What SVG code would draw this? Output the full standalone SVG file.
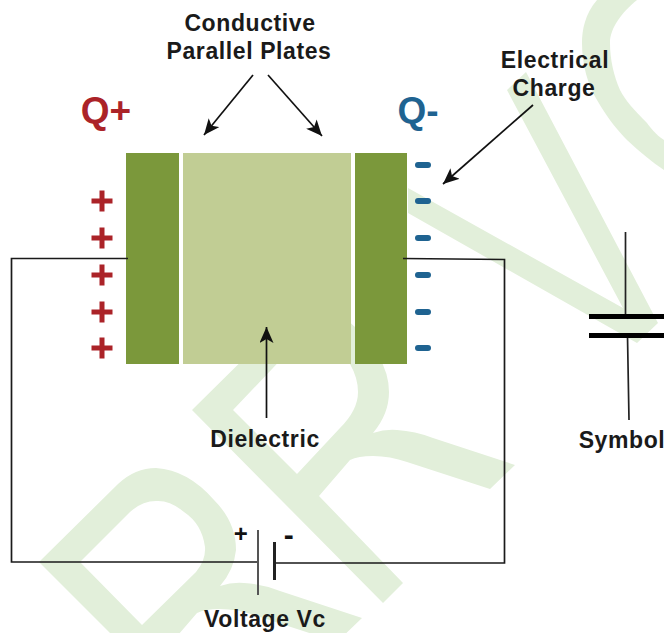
<svg xmlns="http://www.w3.org/2000/svg" width="664" height="633" viewBox="0 0 664 633">
<style>
.wm{fill:#e2efda;fill-rule:evenodd}
.w{fill:none;stroke:#1a1a1a;stroke-width:1.7}
.ar{fill:none;stroke:#111;stroke-width:1.7}
.t{font-family:"Liberation Sans",Arial,sans-serif;font-weight:700;font-size:23px;letter-spacing:.6px;fill:#1a1a1a;text-anchor:middle}
.q{font-size:37px;letter-spacing:0}
.plate{fill:#7b983b}
.neg{fill:#1f6391}
.pos{fill:#ab2328}
</style>
<defs>
<marker id="a" markerWidth="18" markerHeight="14" refX="16" refY="7" orient="auto" markerUnits="userSpaceOnUse"><path d="M0 0L16 7L0 14L4 7Z" fill="#111"/></marker>
<path id="plus" d="M-10.500-2.500H-2.500V-10.500H2.500V-2.500H10.500V2.500H2.500V10.500H-2.500V2.500H-10.500Z" class="pos"/>
<rect id="minus" x="-8" y="-3" width="16" height="6" rx="3" class="neg"/>
</defs>
<g id="watermark">
<path class="wm" d="M39 562L118 484Q135 468 156 468Q188 470 214 500Q236 522 236 550Q234 570 220 586Q232 582 244 583Q262 584 280 591L362 618L337 642L254 615Q237 609 220 609Q205 609 197 613L166 649H126ZM80 562L142 625L196 572Q206 560 205 547Q202 524 184 512Q170 500 156 501Q142 501 130 512Z"/>
<path class="wm" d="M192 410L285 318H345Q389 355 389 392Q389 414 373 433Q385 429 397 430Q415 431 433 438L515 465L490 489L407 462Q390 456 373 456Q358 456 350 460L319 496L403 583L383 603ZM233 410L297 474L340 428Q358 410 358 392Q358 378 350 364V350H290Z"/>
<path class="wm" d="M408 188L623 308L507 90L526 72L658 323L637 343L408 213Z"/>
<path class="wm" d="M597 0C585 14 582 30 582 43C582 65 588 85 597 100C607 118 620 133 627 140C640 152 652 162 664 170V140C655 134 650 127 647 123C634 110 625 100 620 90C614 76 610 60 610 43C610 28 622 12 637 0Z"/>
</g>
<g id="plate-left"><rect class="plate" x="126" y="153" width="53" height="211"/></g>
<g id="dielectric"><rect x="183" y="153" width="168" height="211" fill="#c1cd94"/></g>
<g id="plate-right"><rect class="plate" x="355" y="153" width="52" height="211"/></g>
<g id="connectors">
<path class="w" d="M128 258.500H11.500V562H258"/>
<path class="w" d="M403 258.500L504.500 259.500V563H274"/>
<path class="ar" d="M253 75L204 135" marker-end="url(#a)"/>
<path class="ar" d="M268 75L322 136" marker-end="url(#a)"/>
<path class="ar" d="M533 105L443 184" marker-end="url(#a)"/>
<path class="ar" d="M266.500 418V327" marker-end="url(#a)"/>
<path d="M625.500 232V315M627.500 336L629 420" fill="none" stroke="#222" stroke-width="1.700"/>
</g>
<g id="charges-positive">
<use href="#plus" x="102" y="201"/><use href="#plus" x="102" y="238"/><use href="#plus" x="102" y="275"/><use href="#plus" x="102" y="312"/><use href="#plus" x="102" y="348"/>
</g>
<g id="charges-negative">
<use href="#minus" x="423" y="165"/><use href="#minus" x="423" y="201"/><use href="#minus" x="423" y="238"/><use href="#minus" x="423" y="275"/><use href="#minus" x="423" y="312"/><use href="#minus" x="423" y="348"/>
</g>
<g id="battery">
<path d="M258 530V595" stroke="#555" stroke-width="2" fill="none"/>
<path d="M274.500 542V580" stroke="#222" stroke-width="3" fill="none"/>
</g>
<g id="symbol">
<rect x="589" y="314" width="75" height="5" fill="#000"/>
<rect x="589" y="333" width="75" height="5" fill="#000"/>
</g>
<g id="labels">
<text class="t" x="250" y="31">Conductive</text>
<text class="t" x="249" y="59">Parallel Plates</text>
<text class="t" x="555" y="68">Electrical</text>
<text class="t" x="554" y="96">Charge</text>
<text class="t" x="265" y="447">Dielectric</text>
<text class="t" x="622" y="448">Symbol</text>
<text class="t" x="265" y="627">Voltage Vc</text>
<text class="t q" x="106" y="123" style="fill:#ab2328">Q+</text>
<text class="t q" x="418" y="123" style="fill:#1f6391">Q-</text>
<text class="t" x="241" y="542" style="font-size:24px;fill:#111">+</text>
<text class="t" x="289" y="545" style="font-size:30px;fill:#111">-</text>
</g>
</svg>
